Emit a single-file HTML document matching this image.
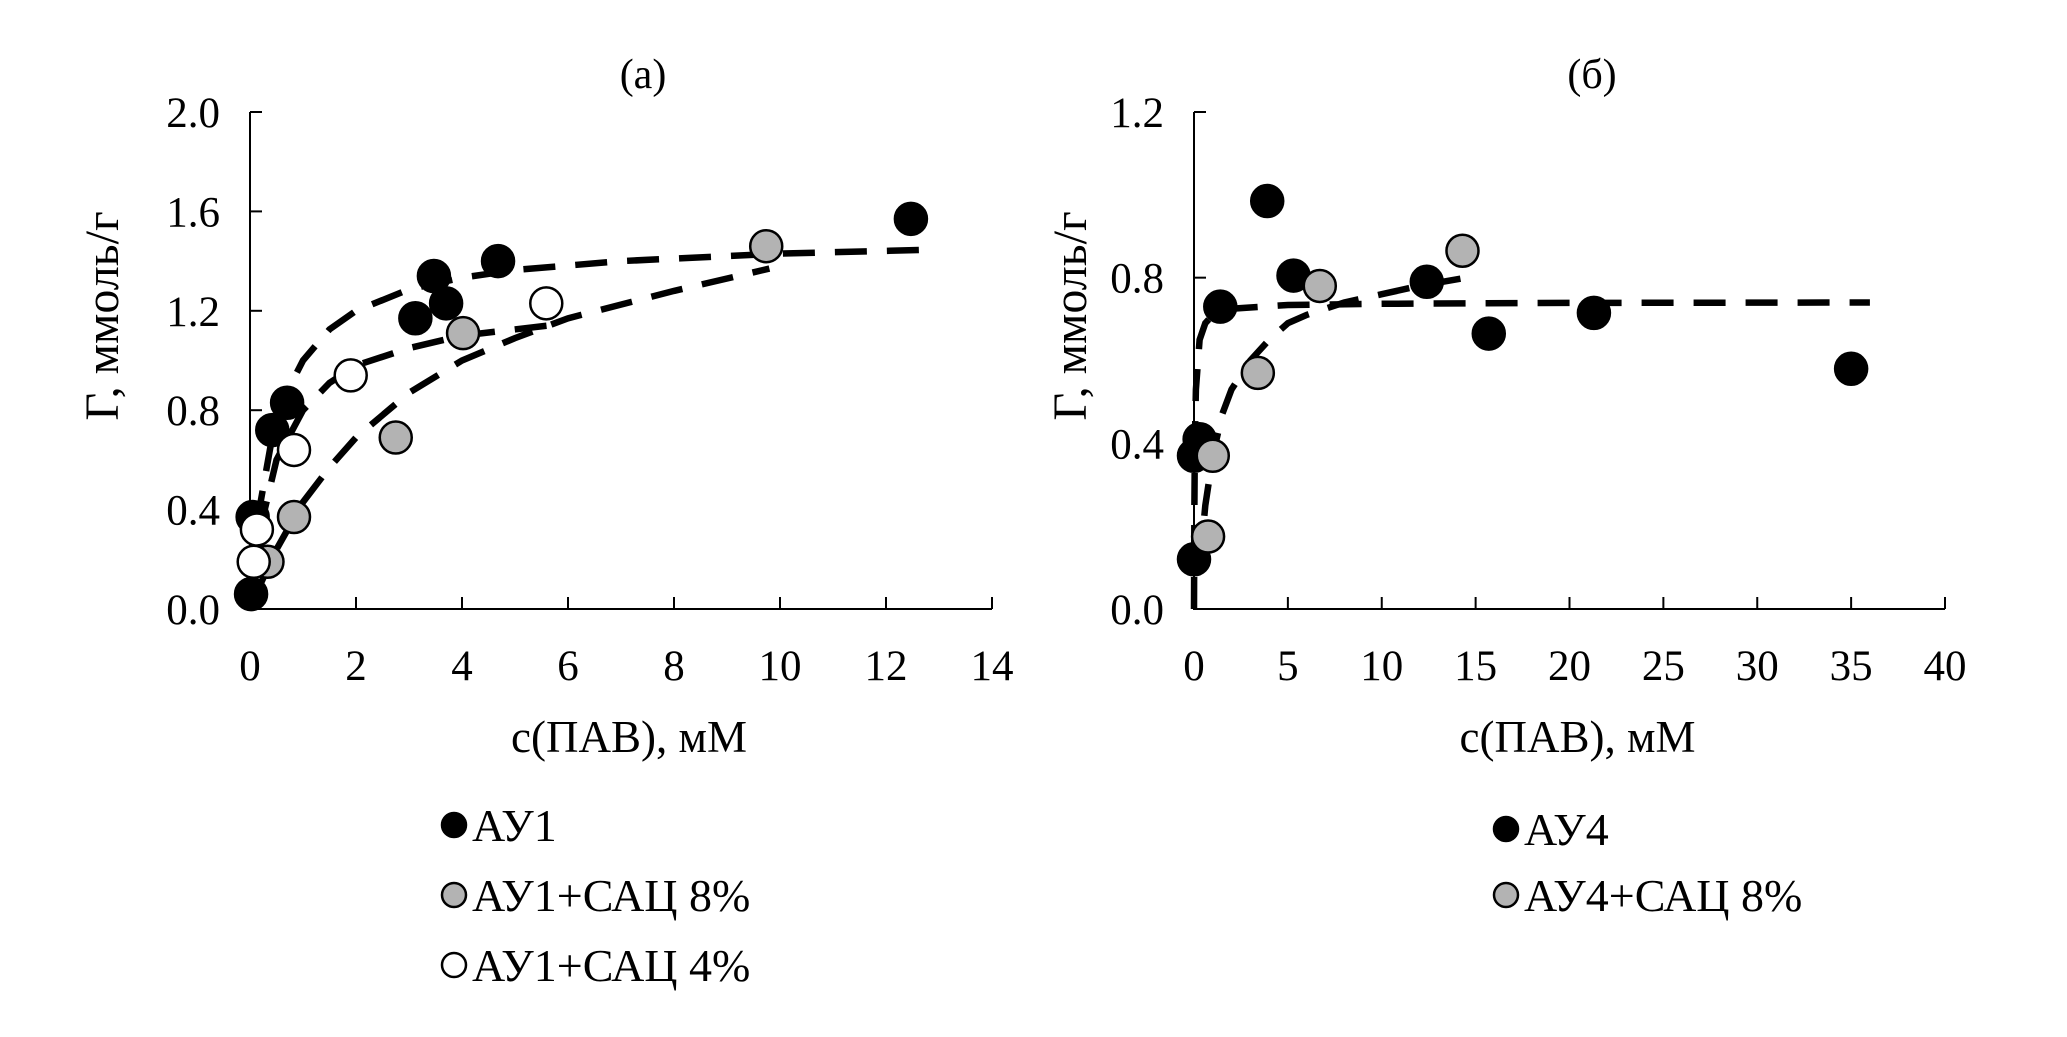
<!DOCTYPE html>
<html><head><meta charset="utf-8"><style>
body{margin:0;background:#fff;}
svg{display:block;font-family:"Liberation Serif",serif;}
</style></head><body>
<svg id="chart" width="2067" height="1037" viewBox="0 0 2067 1037">
<rect x="0" y="0" width="2067" height="1037" fill="#fff"/>
</svg>
<script>
// Panel (a)
const aBlackX=[0.02,0.05,0.42,0.7,3.12,3.47,3.7,4.68,12.47];
const aBlackY=[0.06,0.37,0.72,0.83,1.17,1.34,1.23,1.40,1.57];
const aGrayX=[0.33,0.83,2.75,4.02,9.74];
const aGrayY=[0.19,0.37,0.69,1.11,1.46];
const aWhiteX=[0.07,0.13,0.83,1.9,5.59];
const aWhiteY=[0.19,0.32,0.64,0.94,1.23];
const aFitBlackX=[0.05,0.2,0.4,0.7,1,1.5,2,3,4,5,7,10,12.7];
const aFitBlackY=[0.14,0.43,0.67,0.875,1.0,1.125,1.2,1.286,1.333,1.364,1.4,1.43,1.445];
const aFitGrayX=[0.1,0.5,1,1.5,2,3,4,5,6,8,9.8];
const aFitGrayY=[0.055,0.24,0.43,0.57,0.69,0.87,1.0,1.09,1.17,1.28,1.37];
const aFitWhiteX=[0.05,0.2,0.5,1,1.5,2,3,4,5.6];
const aFitWhiteY=[0.1,0.33,0.6,0.8,0.91,0.98,1.05,1.1,1.14];
const aXTicks=[0,2,4,6,8,10,12,14];
const aYTicks=["0.0","0.4","0.8","1.2","1.6","2.0"];
// Panel (b)
const bBlackX=[0,0,0.3,1.4,3.9,5.3,12.4,15.7,21.3,35.0];
const bBlackY=[0.12,0.37,0.41,0.73,0.985,0.805,0.79,0.665,0.715,0.58];
const bGrayX=[0.75,1.0,3.4,6.7,14.3];
const bGrayY=[0.175,0.37,0.57,0.78,0.865];
const bFitBlackX=[0,0.02,0.05,0.1,0.3,0.6,1,2,5,10,20,36];
const bFitBlackY=[0,0.25,0.41,0.53,0.65,0.69,0.71,0.725,0.734,0.737,0.739,0.74];
const bFitGrayX=[0.3,0.6,1,1.5,2,3,4,5,6,8,10,12,14.5];
const bFitGrayY=[0.1,0.25,0.37,0.47,0.53,0.6,0.65,0.69,0.71,0.74,0.76,0.78,0.80];
const bXTicks=[0,5,10,15,20,25,30,35,40];
const bYTicks=["0.0","0.4","0.8","1.2"];

const NS="http://www.w3.org/2000/svg";
const svg=document.getElementById('chart');
function mk(tag,attrs,parent){const e=document.createElementNS(NS,tag);for(const k in attrs)e.setAttribute(k,attrs[k]);(parent||svg).appendChild(e);return e;}

function panel(cfg){
  const g=mk('g',{});
  
  
  const sx=v=>cfg.x0+(v-cfg.xmin)/(cfg.xmax-cfg.xmin)*(cfg.x1-cfg.x0);
  const sy=v=>cfg.y0-(v/cfg.ymax)*(cfg.y0-cfg.y1);
  const ax=mk('path',{d:`M${cfg.x0} ${cfg.y1}V${cfg.y0}H${cfg.x1}`,stroke:'#000','stroke-width':2,fill:'none'},g);
  
  
  cfg.xt.forEach(t=>{
    const x=sx(t);
    if(t!==cfg.xmin) mk('line',{x1:x,x2:x,y1:cfg.y0,y2:cfg.y0-12,stroke:'#000','stroke-width':2},g);
    const tx=mk('text',{x:x,y:cfg.y0+71,'font-size':43,'text-anchor':'middle'},g);
    tx.textContent=t;
    
    
  });
  cfg.yt.forEach(t=>{
    const y=sy(parseFloat(t));
    mk('line',{x1:cfg.x0,x2:cfg.x0+12,y1:y,y2:y,stroke:'#000','stroke-width':2},g);
    const tx=mk('text',{x:cfg.x0-30,y:y+15,'font-size':43,'text-anchor':'end'},g);
    tx.textContent=t;
    
    
  });
  const ti=mk('text',{x:cfg.tx,y:88,'font-size':42,'text-anchor':'middle'},g);
  ti.textContent=cfg.title;
  
  
  const xt=mk('text',{x:(cfg.x0+cfg.x1)/2+8,y:752,'font-size':45,'text-anchor':'middle'},g);
  xt.textContent='c(ПАВ), мМ';
  
  
  const yt=mk('text',{x:0,y:0,'font-size':48,'text-anchor':'middle',transform:`translate(${cfg.yx},316) rotate(-90)`},g);
  yt.textContent='Г, ммоль/г';
  
  
  cfg.fits.forEach(f=>{
    const d=f[0].map((v,i)=>(i?'L':'M')+sx(v).toFixed(1)+' '+sy(f[1][i]).toFixed(1)).join('');
    const p=mk('path',{d:d,stroke:'#000','stroke-width':6.5,fill:'none','stroke-dasharray':'32 20'},g);
    
    
  });
  cfg.series.forEach(s=>{
    s[0].forEach((v,i)=>{
      const c=mk('circle',{cx:sx(v),cy:sy(s[1][i]),r:16,fill:s[2],stroke:'#000','stroke-width':2.5},g);
      
      
    });
  });
}
panel({name:'panel-a',x0:250,x1:992,xmin:0,xmax:14,y0:609,y1:112,ymax:2.0,xt:aXTicks,yt:aYTicks,title:'(a)',tx:643,yx:118,
  fits:[[aFitGrayX,aFitGrayY],[aFitWhiteX,aFitWhiteY],[aFitBlackX,aFitBlackY]],
  series:[[aGrayX,aGrayY,'#b3b3b3'],[aBlackX,aBlackY,'#000'],[aWhiteX,aWhiteY,'#fff']]});
panel({name:'panel-b',x0:1194,x1:1945,xmin:0,xmax:40,y0:609,y1:112,ymax:1.2,xt:bXTicks,yt:bYTicks,title:'(б)',tx:1592,yx:1086,
  fits:[[bFitGrayX,bFitGrayY],[bFitBlackX,bFitBlackY]],
  series:[[bBlackX,bBlackY,'#000'],[bGrayX,bGrayY,'#b3b3b3']]});

const legA=["АУ1","АУ1+САЦ 8%","АУ1+САЦ 4%"], legAFill=['#000','#b3b3b3','#fff'], legAY=[825,895,965];
const legB=["АУ4","АУ4+САЦ 8%"], legBFill=['#000','#b3b3b3'], legBY=[829,895];
function legend(labels,fills,ys,mx){
  labels.forEach((l,i)=>{
    const g=mk('g',{});
    
    
    mk('circle',{cx:mx,cy:ys[i],r:12,fill:fills[i],stroke:'#000','stroke-width':2.5},g);
    const t=mk('text',{x:mx+18,y:ys[i]+16,'font-size':46},g);
    t.textContent=l;
  });
}
legend(legA,legAFill,legAY,454);
legend(legB,legBFill,legBY,1506);
</script>
</body></html>
